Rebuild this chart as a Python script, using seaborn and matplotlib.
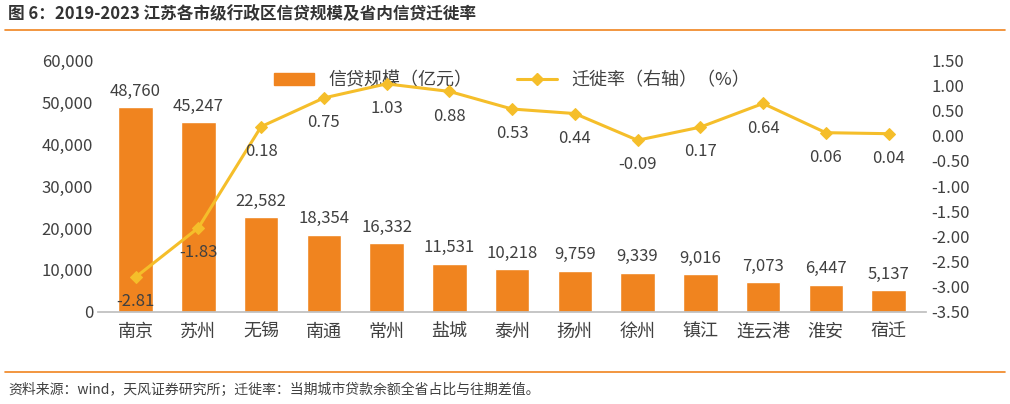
import matplotlib
matplotlib.use("Agg")
import matplotlib.pyplot as plt
import seaborn as sns
import pandas as pd
from matplotlib.lines import Line2D

sns.set_theme(style="white")
plt.rcParams['font.family'] = ['Noto Sans CJK SC', 'DejaVu Sans']
plt.rcParams['axes.unicode_minus'] = False

cities = ["南京", "苏州", "无锡", "南通", "常州", "盐城", "泰州", "扬州", "徐州", "镇江", "连云港", "淮安", "宿迁"]
credit = [48760, 45247, 22582, 18354, 16332, 11531, 10218, 9759, 9339, 9016, 7073, 6447, 5137]
rate = [-2.81, -1.83, 0.18, 0.75, 1.03, 0.88, 0.53, 0.44, -0.09, 0.17, 0.64, 0.06, 0.04]

bar_c = "#F0841F"
line_c = "#F5BE2A"
txt_c = "#404040"

df = pd.DataFrame({"city": cities, "credit": credit, "rate": rate})

fig = plt.figure(figsize=(10.1, 4.04), dpi=100)
ax = fig.add_axes([0.097, 0.228, 0.82, 0.623])
sns.barplot(data=df, x="city", y="credit", color=bar_c, width=0.55, ax=ax, saturation=1)
ax.set_ylim(0, 60000)
ax.set_yticks(range(0, 60001, 10000))
ax.set_yticklabels([f"{v:,}" for v in range(0, 60001, 10000)], fontsize=12, color=txt_c)
ax.set_xlabel(""); ax.set_ylabel("")
ax.tick_params(axis='x', labelsize=13, colors=txt_c, length=0, pad=8)
ax.tick_params(axis='y', length=0)
for s in ax.spines.values():
    s.set_visible(False)
ax.spines['bottom'].set_visible(True)
ax.spines['bottom'].set_color("#BFBFBF")
ax.set_xlim(-0.6, 12.6)
for i, v in enumerate(credit):
    ax.text(i, v + 1800, f"{v:,}", ha="center", va="bottom", fontsize=12, color=txt_c)

ax2 = ax.twinx()
sns.lineplot(x=list(range(13)), y=rate, ax=ax2, color=line_c, marker="D", markersize=6,
             markeredgecolor=line_c, linewidth=2.2)
ax2.set_ylim(-3.5, 1.5)
ticks = [1.5 - 0.5 * i for i in range(11)]
ax2.set_yticks(ticks)
ax2.set_yticklabels([f"{t:.2f}" for t in ticks], fontsize=12, color=txt_c)
ax2.tick_params(axis='y', length=0)
for s in ax2.spines.values():
    s.set_visible(False)
for i, v in enumerate(rate):
    ax2.text(i, v - 0.32, f"{v:.2f}", ha="center", va="top", fontsize=12, color=txt_c)

handles = [plt.Rectangle((0, 0), 1, 1, color=bar_c),
           Line2D([0], [0], color=line_c, marker="D", lw=2.2, markersize=6)]
ax.legend(handles, ["信贷规模（亿元）", "迁徙率（右轴）（%）"], loc="upper center",
          bbox_to_anchor=(0.5, 1.02), ncol=2, frameon=False, fontsize=13,
          handlelength=2.2, columnspacing=2.5, labelcolor=txt_c)

fig.text(0.008, 0.965, "图 6：2019-2023 江苏各市级行政区信贷规模及省内信贷迁徙率",
         fontsize=12, fontweight="bold", color="#333333", va="center")
fig.add_artist(Line2D([0.005, 0.995], [0.925, 0.925], color=bar_c, lw=1.2))
fig.add_artist(Line2D([0.005, 0.995], [0.08, 0.08], color=bar_c, lw=1.2))
fig.text(0.008, 0.035, "资料来源：wind，天风证券研究所；迁徙率：当期城市贷款余额全省占比与往期差值。",
         fontsize=10, color="#404040", va="center")

fig.savefig("out.png", dpi=100)
